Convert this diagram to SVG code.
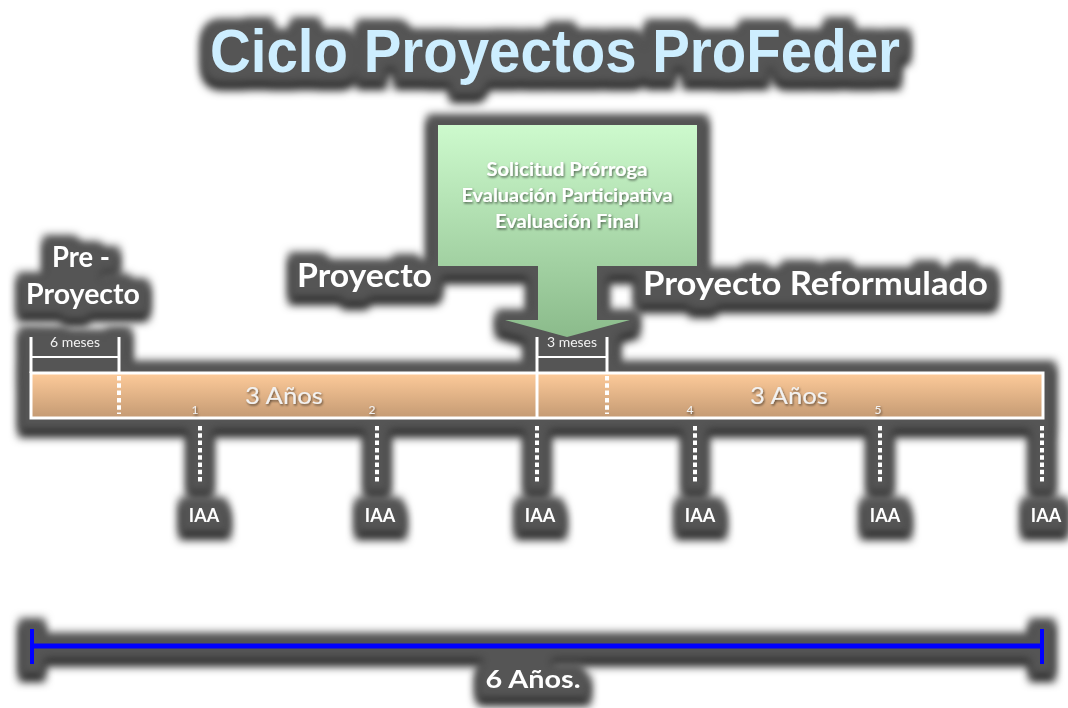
<svg xmlns="http://www.w3.org/2000/svg" width="1068" height="708" viewBox="0 0 1068 708">
<defs>
  <filter id="halo" filterUnits="userSpaceOnUse" x="0" y="0" width="1068" height="708" color-interpolation-filters="sRGB">
    <feMorphology in="SourceAlpha" operator="dilate" radius="11" result="dil"/>
    <feGaussianBlur in="dil" stdDeviation="4.5" result="blur"/>
    <feOffset in="blur" dy="7" result="low"/>
    <feFlood flood-color="#242424"/>
    <feComposite in2="low" operator="in" result="dark"/>
    <feFlood flood-color="#555555"/>
    <feComposite in2="blur" operator="in" result="light"/>
    <feMerge><feMergeNode in="dark"/><feMergeNode in="light"/><feMergeNode in="SourceGraphic"/></feMerge>
  </filter>
  <filter id="ts" x="-10%" y="-30%" width="120%" height="160%">
    <feDropShadow dx="1" dy="1.5" stdDeviation="1" flood-color="#000" flood-opacity="0.55"/>
  </filter>
  <linearGradient id="gGreen" gradientUnits="userSpaceOnUse" x1="0" y1="125" x2="0" y2="337">
    <stop offset="0" stop-color="#cdfacd"/>
    <stop offset="1" stop-color="#8bbb8b"/>
  </linearGradient>
  <linearGradient id="gOrange" x1="0" y1="0" x2="0" y2="1">
    <stop offset="0" stop-color="#fecb9a"/>
    <stop offset="1" stop-color="#c49a73"/>
  </linearGradient>
  <style>
    .lbl{font-family:Lato,"Open Sans","Liberation Sans",sans-serif;font-weight:bold;fill:#fff;}
    .thin{font-family:Lato,"Open Sans","Liberation Sans",sans-serif;fill:#f2f2f2;}
    .wl{stroke:#fff;fill:none;}
    .dots{stroke:#fff;stroke-width:4;stroke-dasharray:4.5 2.8;fill:none;}
  </style>
</defs>
<rect width="1068" height="708" fill="#fff"/>
<g filter="url(#halo)">
  <g id="title">
    <text x="555" y="72" text-anchor="middle" font-family="'Liberation Sans',Arial,sans-serif" font-weight="bold" font-size="61" fill="#cdeeff" textLength="690" lengthAdjust="spacingAndGlyphs">Ciclo Proyectos ProFeder</text>
  </g>
  <g id="callout">
    <path d="M438,125 H697 V266 H597 V320 H630 L567,337 L505,320 H538 V266 H438 Z" fill="url(#gGreen)"/>
    <g class="lbl" font-size="18" text-anchor="middle" filter="url(#ts)">
      <text x="567" y="176" textLength="161" lengthAdjust="spacingAndGlyphs">Solicitud Prórroga</text>
      <text x="567" y="202" textLength="211" lengthAdjust="spacingAndGlyphs">Evaluación Participativa</text>
      <text x="567" y="228" textLength="144" lengthAdjust="spacingAndGlyphs">Evaluación Final</text>
    </g>
  </g>
  <g id="pre-proyecto">
    <text class="lbl" x="81" y="267" font-size="28" text-anchor="middle" textLength="58" lengthAdjust="spacingAndGlyphs">Pre -</text>
    <text class="lbl" x="83" y="304" font-size="28" text-anchor="middle" textLength="114" lengthAdjust="spacingAndGlyphs">Proyecto</text>
  </g>
  <g id="proyecto">
    <text class="lbl" x="364.5" y="287" font-size="32" text-anchor="middle" textLength="135" lengthAdjust="spacingAndGlyphs">Proyecto</text>
  </g>
  <g id="proyecto-reformulado">
    <text class="lbl" x="815.5" y="295" font-size="32" text-anchor="middle" textLength="345" lengthAdjust="spacingAndGlyphs">Proyecto Reformulado</text>
  </g>
  <g id="timeline">
    <rect x="31" y="373" width="1012" height="45" fill="url(#gOrange)" stroke="#fff" stroke-width="3"/>
    <line class="wl" x1="537" y1="373" x2="537" y2="418" stroke-width="3"/>
    <g class="thin" filter="url(#ts)">
      <text x="284" y="404" font-size="24" text-anchor="middle" textLength="78" lengthAdjust="spacingAndGlyphs">3 Años</text>
      <text x="789" y="404" font-size="24" text-anchor="middle" textLength="78" lengthAdjust="spacingAndGlyphs">3 Años</text>
      <text x="195" y="414" font-size="12" text-anchor="middle">1</text>
      <text x="372" y="414" font-size="12" text-anchor="middle">2</text>
      <text x="690" y="414" font-size="12" text-anchor="middle">4</text>
      <text x="878" y="414" font-size="12" text-anchor="middle">5</text>
    </g>
  </g>
  <g id="bracket-6-meses">
    <line class="wl" x1="31" y1="337" x2="31" y2="373" stroke-width="3"/>
    <line class="wl" x1="119" y1="337" x2="119" y2="373" stroke-width="3"/>
    <line class="wl" x1="31" y1="357" x2="119" y2="357" stroke-width="2"/>
    <line class="dots" x1="119" y1="376" x2="119" y2="414"/>
    <text class="thin" x="75" y="347" font-size="13" text-anchor="middle" textLength="50" lengthAdjust="spacingAndGlyphs">6 meses</text>
  </g>
  <g id="bracket-3-meses">
    <line class="wl" x1="537" y1="337" x2="537" y2="373" stroke-width="3"/>
    <line class="wl" x1="607" y1="337" x2="607" y2="373" stroke-width="3"/>
    <line class="wl" x1="537" y1="357" x2="607" y2="357" stroke-width="2"/>
    <line class="dots" x1="607" y1="376" x2="607" y2="414"/>
    <text class="thin" x="572" y="347" font-size="13" text-anchor="middle" textLength="50" lengthAdjust="spacingAndGlyphs">3 meses</text>
  </g>
  <g id="connectors">
    <line class="dots" x1="200" y1="426" x2="200" y2="484"/>
    <line class="dots" x1="377" y1="426" x2="377" y2="484"/>
    <line class="dots" x1="537" y1="426" x2="537" y2="484"/>
    <line class="dots" x1="695" y1="426" x2="695" y2="484"/>
    <line class="dots" x1="880" y1="426" x2="880" y2="484"/>
    <line class="dots" x1="1042" y1="426" x2="1042" y2="484"/>
  </g>
  <g id="iaa-1"><text class="lbl" x="204" y="522" font-size="18" text-anchor="middle">IAA</text></g>
  <g id="iaa-2"><text class="lbl" x="380" y="522" font-size="18" text-anchor="middle">IAA</text></g>
  <g id="iaa-3"><text class="lbl" x="540" y="522" font-size="18" text-anchor="middle">IAA</text></g>
  <g id="iaa-4"><text class="lbl" x="700" y="522" font-size="18" text-anchor="middle">IAA</text></g>
  <g id="iaa-5"><text class="lbl" x="885" y="522" font-size="18" text-anchor="middle">IAA</text></g>
  <g id="iaa-6"><text class="lbl" x="1046" y="522" font-size="18" text-anchor="middle">IAA</text></g>
  <g id="total-6-anos">
    <line x1="32" y1="646" x2="1042" y2="646" stroke="#0000ff" stroke-width="5"/>
    <line x1="32" y1="629" x2="32" y2="664" stroke="#0000ff" stroke-width="4"/>
    <line x1="1042" y1="629" x2="1042" y2="664" stroke="#0000ff" stroke-width="4"/>
    <text class="lbl" x="533" y="688" font-size="24" text-anchor="middle" textLength="95" lengthAdjust="spacingAndGlyphs">6 Años.</text>
  </g>
</g>
</svg>
